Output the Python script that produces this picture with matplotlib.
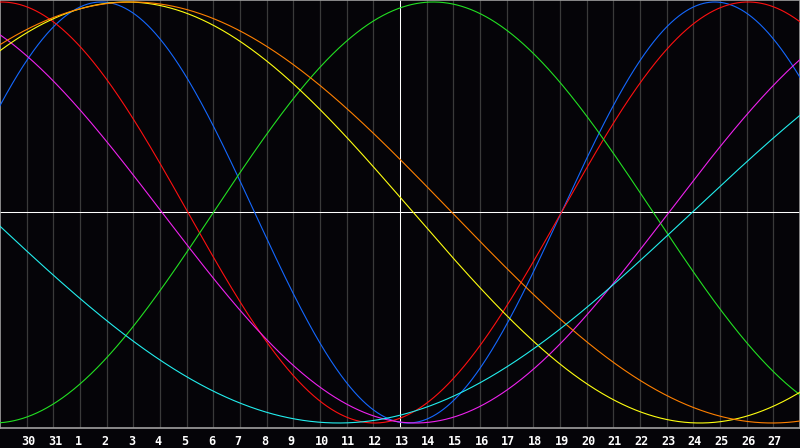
import numpy as np
import matplotlib
matplotlib.use("Agg")
import matplotlib.pyplot as plt
from matplotlib.transforms import offset_copy

# day labels under each grid line (left edge of chart = day 0)
day_labels = ['30', '31'] + [str(d) for d in range(1, 28)]
today_pos = 15          # grid line drawn in white (the 13th)

# cycles: period (days) and the chart day of a peak
names   = ['blue', 'red', 'green', 'magenta', 'yellow', 'orange', 'cyan']
periods = [23, 28, 33, 38, 43, 48, 53]
peaks   = [3.8, 0.05, 16.25, -3.42, 4.75, 4.95, -13.8]
colors  = ['#1468ff', '#ff1010', '#22e022', '#ee22ee', '#ffff10', '#ff8000', '#22eeee']

bg = '#050408'
fig = plt.figure(figsize=(8, 4.48), dpi=100, facecolor=bg)
ax = fig.add_axes([0, 20/448, 1, 428/448], facecolor=bg)

ndays = 30
ax.set_xlim(0, ndays)
ax.set_ylim(-1.0238, 1.0095)

for k in range(1, ndays):
    c = 'white' if k == today_pos else '#3a3a3a'
    ax.axvline(k, color=c, lw=0.75 if k == today_pos else 0.9, zorder=1)
ax.axhline(0, color='white', lw=0.75, zorder=1)

t = np.linspace(0, ndays, 1601)
for P, pk, col in zip(periods, peaks, colors):
    ax.plot(t, np.cos(2*np.pi*(t - pk)/P), color=col, lw=0.8, zorder=3)

ax.set_xticks([])
ax.set_yticks([])
for s in ax.spines.values():
    s.set_color('#a0a0a0')
    s.set_linewidth(1.2)

trans = offset_copy(ax.get_xaxis_transform(), fig=fig, x=-5.5, y=0, units='dots')
for k, lab in enumerate(day_labels, start=1):
    ax.text(k, -7/428, lab, transform=trans, ha='left', va='top',
            color='white', fontsize=8.5, fontweight='bold', family='DejaVu Sans Mono')

fig.savefig('out.png', dpi=100, facecolor=bg)
